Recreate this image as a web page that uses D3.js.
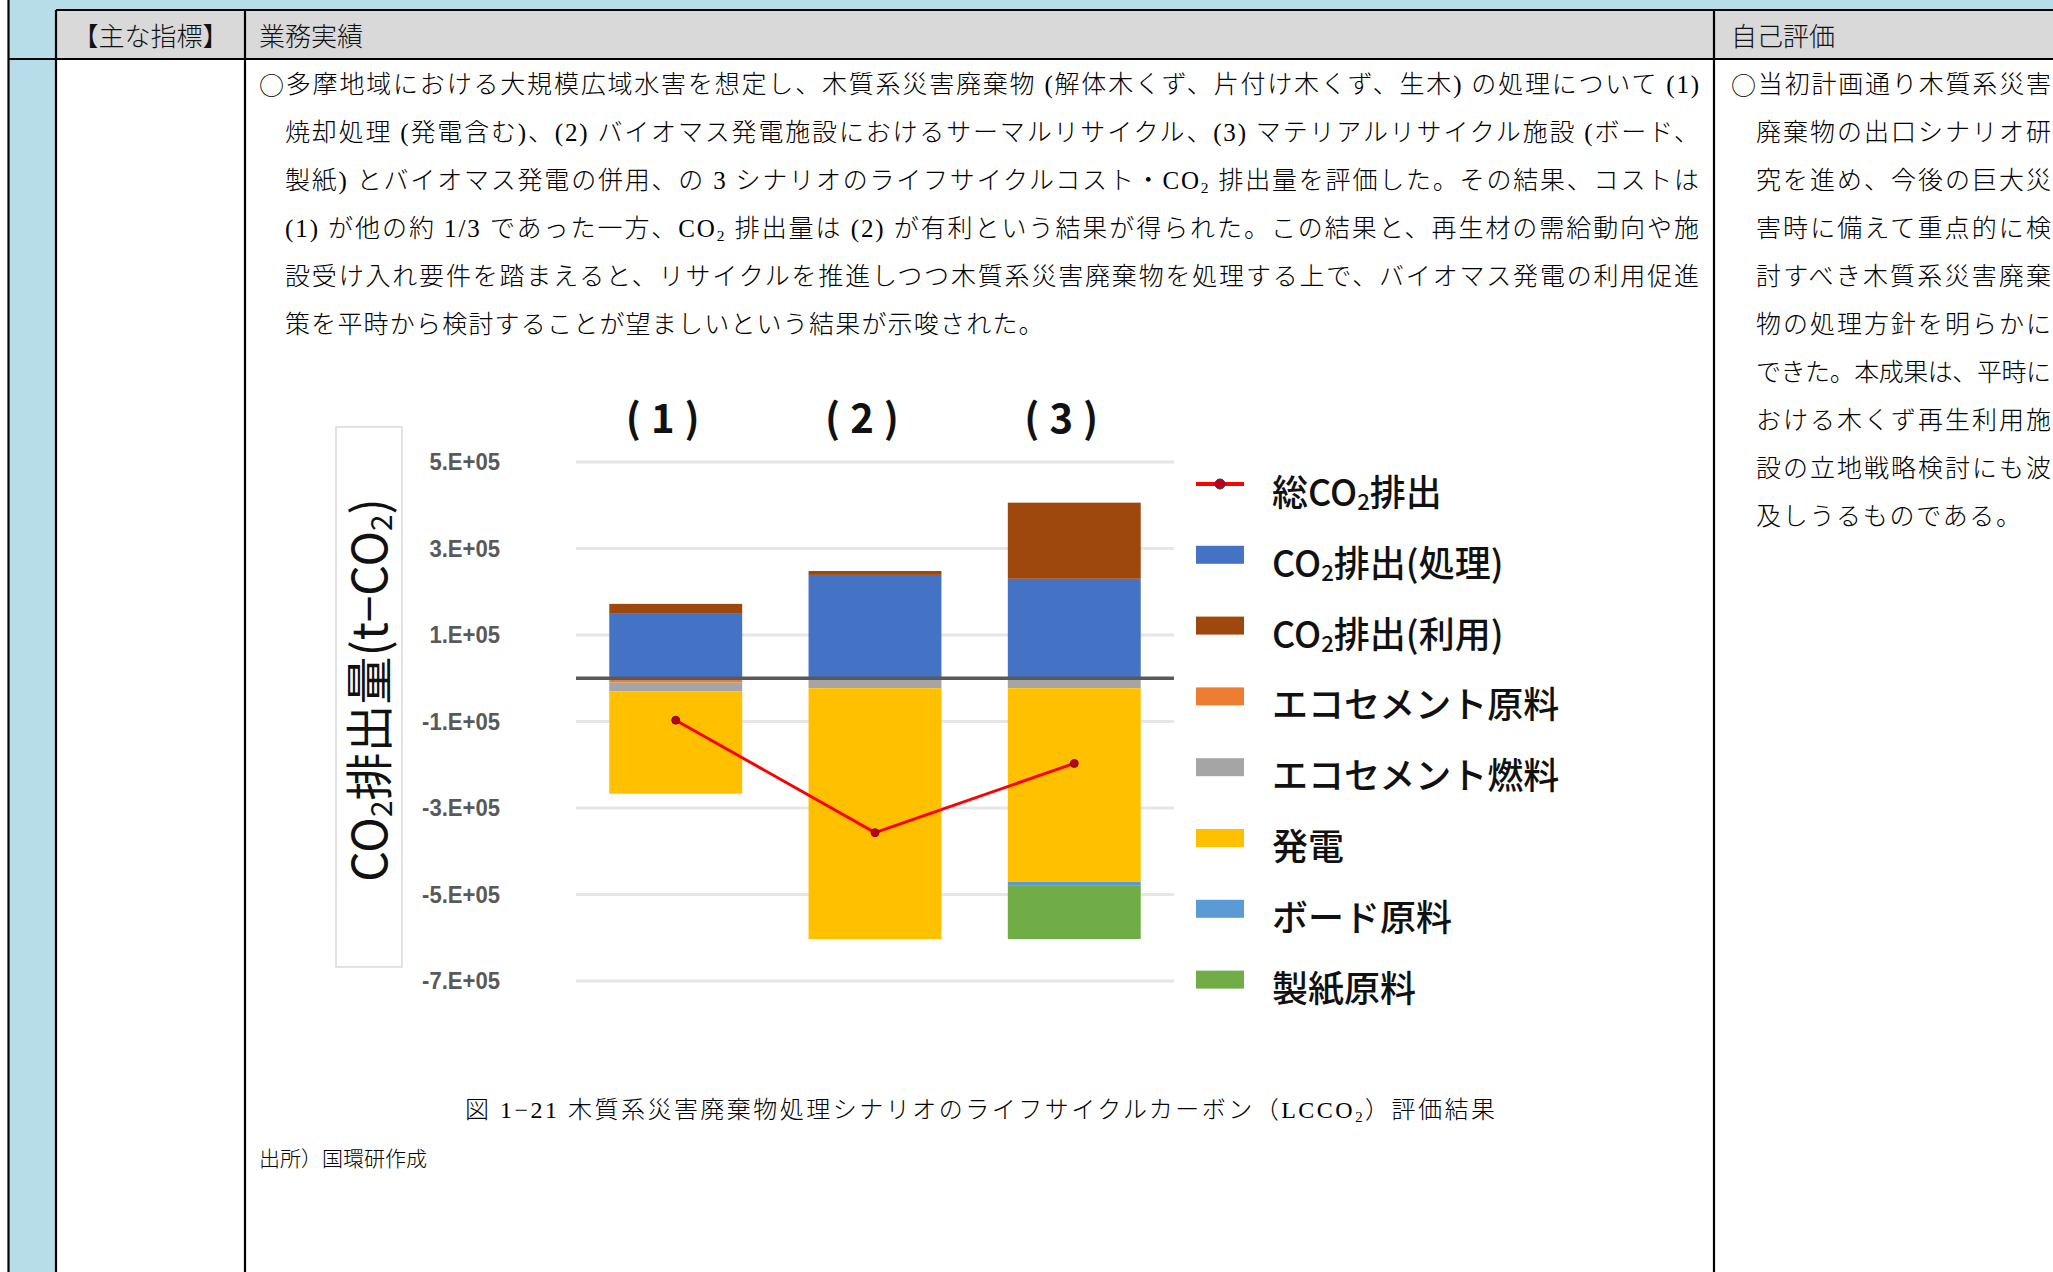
<!DOCTYPE html>
<html>
<head>
<meta charset="utf-8">
<script src="https://cdn.jsdelivr.net/npm/d3@7"></script>
<style>
  body { margin: 0; background: #fff; }
  svg { display: block; }
</style>
</head>
<body>
<div id="page"></div>
<script>
// ---- chart data (t-CO2) ----
const scenarios = ['(1)', '(2)', '(3)'];
const seriesNames = ['CO₂排出(処理)', 'CO₂排出(利用)', 'エコセメント原料', 'エコセメント燃料', '発電', 'ボード原料', '製紙原料'];
const seriesColors = ['#4472c4', '#9e480e', '#ed7d31', '#a5a5a5', '#ffc000', '#5b9bd5', '#70ad47'];
const co2Treat = [149000, 239000, 230000];
const co2Use = [23000, 9000, 176000];
const ecoRaw = [-10000, 0, 0];
const ecoFuel = [-20000, -23000, -23000];
const power = [-237000, -580000, -448000];
const board = [0, 0, -9000];
const paper = [0, 0, -123000];
const totalName = '総CO₂排出';
const totalCO2 = [-97000, -357000, -197000];
const yTicks = [500000, 300000, 100000, -100000, -300000, -500000, -700000];
const yTickLabels = ['5.E+05', '3.E+05', '1.E+05', '-1.E+05', '-3.E+05', '-5.E+05', '-7.E+05'];
const yTitle = 'CO₂排出量(t−CO₂)';

// ---- page texts ----
const headers = ['【主な指標】', '業務実績', '自己評価'];
const bodyLines = [
  '○多摩地域における大規模広域水害を想定し、木質系災害廃棄物 (解体木くず、片付け木くず、生木) の処理について (1)',
  '焼却処理 (発電含む)、(2) バイオマス発電施設におけるサーマルリサイクル、(3) マテリアルリサイクル施設 (ボード、',
  '製紙) とバイオマス発電の併用、の 3 シナリオのライフサイクルコスト・CO₂ 排出量を評価した。その結果、コストは',
  '(1) が他の約 1/3 であった一方、CO₂ 排出量は (2) が有利という結果が得られた。この結果と、再生材の需給動向や施',
  '設受け入れ要件を踏まえると、リサイクルを推進しつつ木質系災害廃棄物を処理する上で、バイオマス発電の利用促進',
  '策を平時から検討することが望ましいという結果が示唆された。'
];
const evalLines = [
  '○当初計画通り木質系災害', '廃棄物の出口シナリオ研', '究を進め、今後の巨大災', '害時に備えて重点的に検',
  '討すべき木質系災害廃棄', '物の処理方針を明らかに', 'できた。本成果は、平時に', 'おける木くず再生利用施',
  '設の立地戦略検討にも波', '及しうるものである。'
];
const caption = '図 1−21  木質系災害廃棄物処理シナリオのライフサイクルカーボン（LCCO₂）評価結果';
const source = '出所）国環研作成';

const W = 2053, H = 1272;
const svg = d3.select('#page').append('svg').attr('width', W).attr('height', H);
const serifJP = '"Liberation Serif", "Noto Sans CJK JP", serif';
const gothic = '"Noto Sans CJK JP", sans-serif';

// text with CO2 subscripts; the circle mark is drawn with the CJK font
function richText(text, str, fs) {
  str.split('₂').forEach((p, i) => {
    if (i > 0) {
      text.append('tspan').attr('font-size', fs * 0.62).attr('dy', fs * 0.28).text('2');
      text.append('tspan').attr('dy', -fs * 0.28).text(p);
    } else if (p.startsWith('○')) {
      text.append('tspan').attr('font-family', gothic).text('○');
      text.append('tspan').text(p.slice(1));
    } else {
      text.append('tspan').text(p);
    }
  });
  return text;
}

// ---- table frame ----
const colX = [8.5, 56, 245, 1714];
svg.append('rect').attr('x', colX[0]).attr('y', 0).attr('width', W).attr('height', 10).attr('fill', '#b7dde8');
svg.append('rect').attr('x', colX[0]).attr('y', 0).attr('width', colX[1] - colX[0]).attr('height', H).attr('fill', '#b7dde8');
svg.append('rect').attr('x', colX[1]).attr('y', 10).attr('width', W - colX[1]).attr('height', 49).attr('fill', '#d9d9d9');
const frame = svg.append('g').attr('stroke', '#000').attr('stroke-width', 2.2);
frame.append('line').attr('x1', colX[0]).attr('x2', colX[0]).attr('y1', 0).attr('y2', H);
frame.append('line').attr('x1', colX[1]).attr('x2', W).attr('y1', 10).attr('y2', 10);
frame.append('line').attr('x1', colX[0]).attr('x2', W).attr('y1', 59).attr('y2', 59);
colX.slice(1).forEach(x => frame.append('line').attr('x1', x).attr('x2', x).attr('y1', 10).attr('y2', H));

// header texts
const headG = svg.append('g').attr('font-family', gothic).attr('font-weight', 300)
  .attr('font-size', 26).attr('fill', '#111').attr('dominant-baseline', 'central');
headG.append('text').attr('x', (colX[1] + colX[2]) / 2).attr('y', 34).attr('text-anchor', 'middle').text(headers[0]);
headG.append('text').attr('x', 259).attr('y', 34).text(headers[1]);
headG.append('text').attr('x', 1731).attr('y', 34).text(headers[2]);

// body paragraph
const bodyG = svg.append('g').attr('font-family', serifJP).attr('font-weight', 300)
  .attr('font-size', 25).attr('fill', '#000').attr('dominant-baseline', 'central');
bodyLines.forEach((s, i) => {
  const x0 = i === 0 ? 259 : 285;
  const t = bodyG.append('text').attr('x', x0).attr('y', 84 + 48 * i);
  if (i < bodyLines.length - 1) t.attr('textLength', 1699 - x0).attr('lengthAdjust', 'spacing');
  else t.attr('letter-spacing', 1.2);
  richText(t, s, 25);
});
evalLines.forEach((s, i) => {
  const x0 = i === 0 ? 1731 : 1756;
  const t = bodyG.append('text').attr('x', x0).attr('y', 84 + 48 * i);
  if (i < evalLines.length - 1) t.attr('textLength', 2051 - x0).attr('lengthAdjust', 'spacing');
  else t.attr('letter-spacing', 1.7);
  richText(t, s, 25);
});

// caption + source
richText(svg.append('text').attr('x', 465).attr('y', 1110).attr('font-family', serifJP).attr('font-weight', 300)
  .attr('font-size', 24).attr('dominant-baseline', 'central')
  .attr('textLength', 1030).attr('lengthAdjust', 'spacing'), caption, 24);
svg.append('text').attr('x', 259).attr('y', 1157).attr('font-family', gothic).attr('font-weight', 300)
  .attr('font-size', 21).attr('dominant-baseline', 'central').text(source);

// ---- chart ----
const x = d3.scaleBand().domain(scenarios).range([576, 1174]).paddingInner(0.333).paddingOuter(0.167);
const y = d3.scaleLinear().domain([-700000, 500000]).range([981, 462]);

const chart = svg.append('g');

// gridlines
chart.append('g').selectAll('line').data(yTicks).join('line')
  .attr('x1', x.range()[0]).attr('x2', x.range()[1])
  .attr('y1', d => y(d)).attr('y2', d => y(d))
  .attr('stroke', '#e6e6e6').attr('stroke-width', 3);

// y axis labels
const yAxis = d3.axisLeft(y).tickValues(yTicks).tickSize(0).tickPadding(0)
  .tickFormat((d, i) => yTickLabels[i]);
const yg = chart.append('g').attr('transform', 'translate(500,0)').call(yAxis);
yg.select('.domain').remove();
yg.selectAll('text').attr('font-family', '"Liberation Sans", Arial, sans-serif')
  .attr('font-weight', 700).attr('font-size', 24).attr('fill', '#595959')
  .attr('textLength', function () { return this.getComputedTextLength() * 0.92; })
  .attr('lengthAdjust', 'spacingAndGlyphs');

// y title box
chart.append('rect').attr('x', 336).attr('y', 427).attr('width', 66).attr('height', 540)
  .attr('fill', '#fff').attr('stroke', '#d9d9d9').attr('stroke-width', 1.5);
richText(chart.append('text').attr('transform', 'translate(366,690) rotate(-90)')
  .attr('text-anchor', 'middle').attr('dominant-baseline', 'central')
  .attr('font-family', gothic).attr('font-size', 48).attr('fill', '#111'), yTitle, 48);

// stacked bars
const series = [co2Treat, co2Use, ecoRaw, ecoFuel, power, board, paper];
const rows = scenarios.map((c, j) => {
  const r = { cat: c };
  seriesNames.forEach((n, i) => { r[n] = series[i][j]; });
  return r;
});
const stack = d3.stack().keys(seriesNames).offset(d3.stackOffsetDiverging)(rows);
const color = d3.scaleOrdinal().domain(seriesNames).range(seriesColors);
chart.append('g').selectAll('g').data(stack).join('g')
  .attr('fill', d => color(d.key))
  .selectAll('rect').data(d => d).join('rect')
  .attr('x', d => x(d.data.cat))
  .attr('width', x.bandwidth())
  .attr('y', d => y(Math.max(d[0], d[1])))
  .attr('height', d => Math.abs(y(d[0]) - y(d[1])));

// zero line
chart.append('line').attr('x1', x.range()[0]).attr('x2', x.range()[1])
  .attr('y1', y(0)).attr('y2', y(0)).attr('stroke', '#595959').attr('stroke-width', 3.5);

// total line
const cx = c => x(c) + x.bandwidth() / 2;
chart.append('path').datum(totalCO2)
  .attr('d', d3.line().x((d, i) => cx(scenarios[i])).y(d => y(d)))
  .attr('fill', 'none').attr('stroke', '#ff0000').attr('stroke-width', 3);
chart.append('g').selectAll('circle').data(totalCO2).join('circle')
  .attr('cx', (d, i) => cx(scenarios[i])).attr('cy', d => y(d)).attr('r', 4)
  .attr('fill', '#c00018').attr('stroke', '#7a1030').attr('stroke-width', 1);

// scenario labels
chart.append('g').selectAll('text').data(scenarios).join('text')
  .attr('x', d => cx(d) - 8).attr('y', 416)
  .attr('text-anchor', 'middle').attr('dominant-baseline', 'central')
  .attr('font-family', gothic).attr('font-weight', 700).attr('font-size', 40)
  .attr('letter-spacing', 10).attr('fill', '#111')
  .text(d => d);

// legend
const legendNames = [totalName].concat(seriesNames);
const lg = chart.append('g').selectAll('g').data(legendNames).join('g')
  .attr('transform', (d, i) => `translate(1196,${484 + 70.8 * i})`);
lg.each(function (d, i) {
  const g = d3.select(this);
  if (i === 0) {
    g.append('line').attr('x1', 0).attr('x2', 48).attr('stroke', '#ff0000').attr('stroke-width', 4);
    g.append('circle').attr('cx', 24).attr('r', 5).attr('fill', '#c00018').attr('stroke', '#3a2a6a').attr('stroke-width', 1);
  } else {
    g.append('rect').attr('x', 0).attr('y', -9).attr('width', 48).attr('height', 18).attr('fill', color(d));
  }
  richText(g.append('text').attr('x', 76).attr('y', 6).attr('dominant-baseline', 'central')
    .attr('font-family', gothic).attr('font-weight', 500).attr('font-size', 36).attr('fill', '#111'), d, 36);
});
</script>
</body>
</html>
